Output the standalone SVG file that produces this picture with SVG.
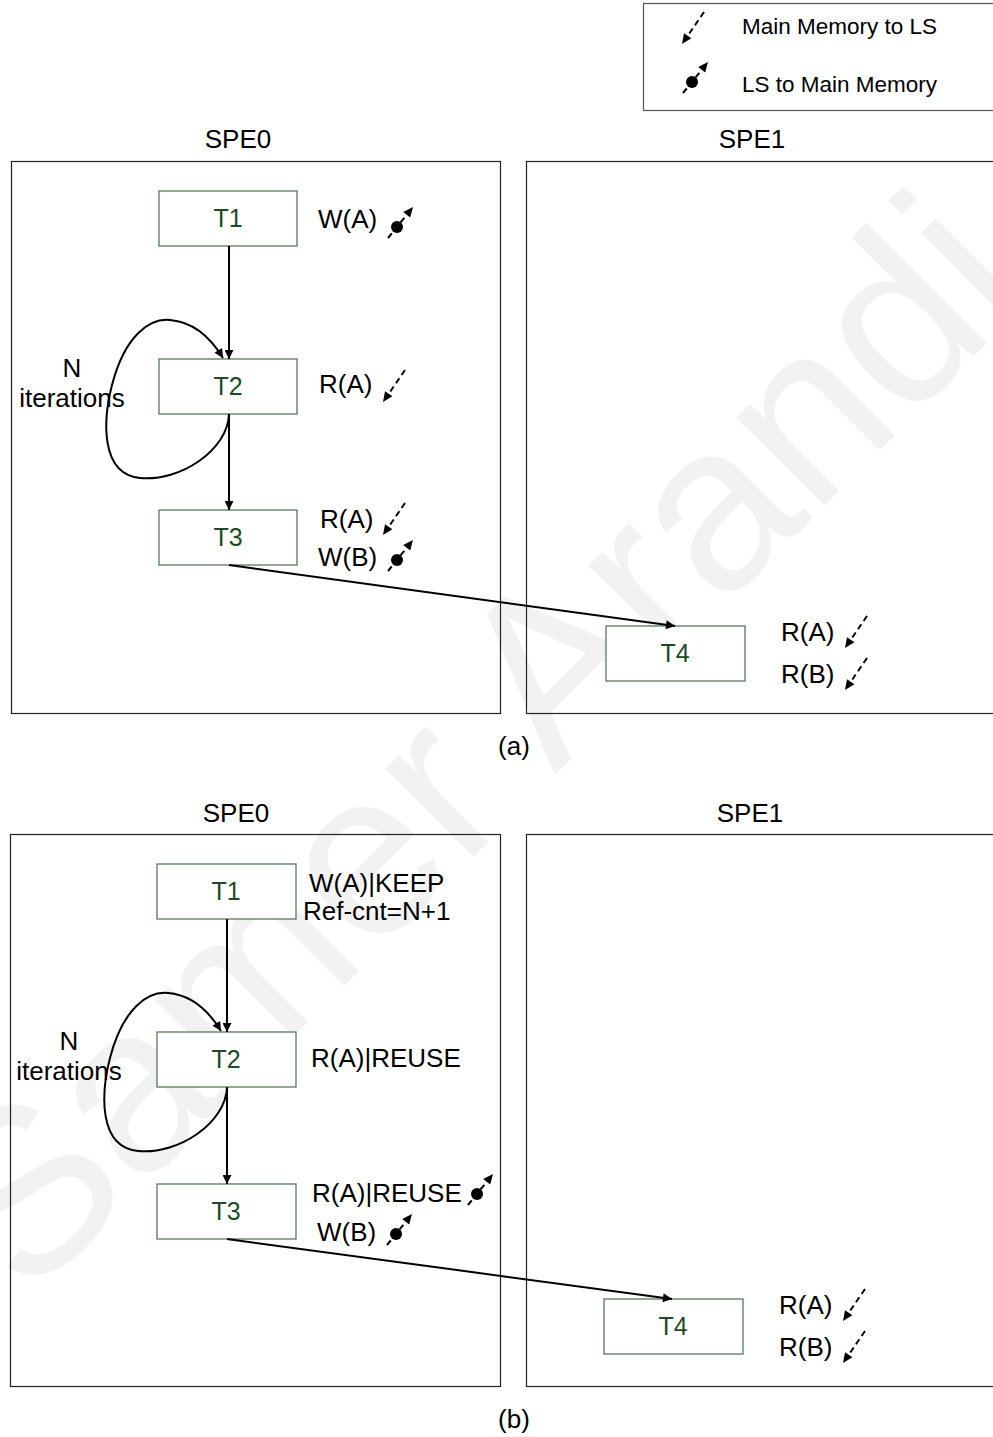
<svg xmlns="http://www.w3.org/2000/svg" xmlns:xlink="http://www.w3.org/1999/xlink" width="993" height="1437" viewBox="0 0 993 1437">
<style>
text{font-family:"Liberation Sans",Arial,sans-serif;}
.lbl{font-size:26px;fill:#000;}
.ttl{font-size:26px;fill:#000;}
.leg{font-size:22.5px;fill:#000;}
.nt{font-size:25px;fill:#1e4a28;text-anchor:middle;}
.node{fill:#fff;stroke:#557a5c;stroke-width:1.3;}
.panel{fill:none;stroke:#222;stroke-width:1.2;}
.edge{fill:none;stroke:#000;stroke-width:2;}
.dash{stroke:#000;stroke-width:2;stroke-dasharray:6,4;fill:none;}
.wm{font-size:235px;fill:#f2f2f2;}
</style>
<defs>
<marker id="ah" viewBox="0 0 10 10" refX="10" refY="5" markerWidth="10" markerHeight="9" markerUnits="userSpaceOnUse" orient="auto">
<path d="M0,0 L10,5 L0,10 z" fill="#000"/>
</marker>
<g id="rd">
<line class="dash" x1="22" y1="-32" x2="5.7" y2="-8.2"/>
<polygon points="0,0 9.4,-5.7 2,-10.8" fill="#000"/>
</g>
<g id="wr">
<line class="dash" x1="0" y1="0" x2="18.7" y2="-23.2"/>
<circle cx="9" cy="-11" r="6" fill="#000"/>
<polygon points="25,-31 22.2,-20.4 15.2,-26" fill="#000"/>
</g>
</defs>
<rect width="993" height="1437" fill="#fff"/>
<text class="wm" transform="translate(28,1302) rotate(-45)">Samer Arandi</text>

<g id="legend">
<rect x="643.5" y="3.5" width="352" height="107" fill="none" stroke="#555" stroke-width="1.2"/>
<use xlink:href="#rd" x="682" y="44"/>
<text class="leg" x="742" y="34">Main Memory to LS</text>
<use xlink:href="#wr" x="683" y="93"/>
<text class="leg" x="742" y="92">LS to Main Memory</text>
</g>

<!-- Panel (a) -->
<g id="a-spe0">
<text class="ttl" x="238" y="148" text-anchor="middle">SPE0</text>
<rect class="panel" x="11.5" y="161.5" width="489" height="552"/>
</g>
<g id="a-spe1">
<text class="ttl" x="752" y="148" text-anchor="middle">SPE1</text>
<rect class="panel" x="526.5" y="161.5" width="470" height="552"/>
</g>
<g id="a-T1">
<rect class="node" x="159" y="191" width="138" height="55"/>
<text class="nt" x="228" y="227">T1</text>
<text class="lbl" x="318" y="228">W(A)</text>
<use xlink:href="#wr" x="388" y="238"/>
</g>
<g id="a-T2">
<rect class="node" x="159" y="359" width="138" height="55"/>
<text class="nt" x="228" y="395">T2</text>
<text class="lbl" x="319" y="393">R(A)</text>
<use xlink:href="#rd" x="383" y="402"/>
</g>
<g id="a-T3">
<rect class="node" x="159" y="510" width="138" height="55"/>
<text class="nt" x="228" y="546">T3</text>
<text class="lbl" x="320" y="528">R(A)</text>
<use xlink:href="#rd" x="383" y="535"/>
<text class="lbl" x="318" y="566">W(B)</text>
<use xlink:href="#wr" x="388" y="571"/>
</g>
<g id="a-T4">
<rect class="node" x="606" y="626" width="139" height="55"/>
<text class="nt" x="675" y="662">T4</text>
<text class="lbl" x="781" y="641">R(A)</text>
<use xlink:href="#rd" x="845" y="648"/>
<text class="lbl" x="781" y="683">R(B)</text>
<use xlink:href="#rd" x="845" y="690"/>
</g>
<g id="a-loop-label">
<text class="lbl" x="72" y="377" text-anchor="middle">N</text>
<text class="lbl" x="72" y="407" text-anchor="middle">iterations</text>
</g>
<text class="ttl" x="514" y="755" text-anchor="middle">(a)</text>

<!-- Panel (b) -->
<g id="b-spe0">
<text class="ttl" x="236" y="822" text-anchor="middle">SPE0</text>
<rect class="panel" x="10.5" y="834.5" width="490" height="552"/>
</g>
<g id="b-spe1">
<text class="ttl" x="750" y="822" text-anchor="middle">SPE1</text>
<rect class="panel" x="526.5" y="834.5" width="470" height="552"/>
</g>
<g id="b-T1">
<rect class="node" x="157" y="864" width="139" height="55"/>
<text class="nt" x="226" y="900">T1</text>
<text class="lbl" x="309" y="892">W(A)|KEEP</text>
<text class="lbl" x="303" y="920">Ref-cnt=N+1</text>
</g>
<g id="b-T2">
<rect class="node" x="157" y="1032" width="139" height="55"/>
<text class="nt" x="226" y="1068">T2</text>
<text class="lbl" x="311" y="1067">R(A)|REUSE</text>
</g>
<g id="b-T3">
<rect class="node" x="157" y="1184" width="139" height="55"/>
<text class="nt" x="226" y="1220">T3</text>
<text class="lbl" x="312" y="1202">R(A)|REUSE</text>
<use xlink:href="#wr" x="468" y="1205"/>
<text class="lbl" x="317" y="1241">W(B)</text>
<use xlink:href="#wr" x="387" y="1245"/>
</g>
<g id="b-T4">
<rect class="node" x="604" y="1299" width="139" height="55"/>
<text class="nt" x="673" y="1335">T4</text>
<text class="lbl" x="779" y="1314">R(A)</text>
<use xlink:href="#rd" x="843" y="1321"/>
<text class="lbl" x="779" y="1356">R(B)</text>
<use xlink:href="#rd" x="843" y="1363"/>
</g>
<g id="b-loop-label">
<text class="lbl" x="69" y="1050" text-anchor="middle">N</text>
<text class="lbl" x="69" y="1080" text-anchor="middle">iterations</text>
</g>
<text class="ttl" x="514" y="1428" text-anchor="middle">(b)</text>

<g id="connectors">
<line class="edge" x1="229" y1="246" x2="229" y2="359" marker-end="url(#ah)"/>
<line class="edge" x1="229" y1="414" x2="229" y2="510" marker-end="url(#ah)"/>
<line class="edge" x1="229" y1="565" x2="675" y2="626" marker-end="url(#ah)"/>
<path class="edge" d="M229,414 C228,450 180,482 140,478 C100,474 103,420 112,385 C125,335 150,318 170,320 C195,322 212,340 223,358" marker-end="url(#ah)"/>
<line class="edge" x1="227" y1="919" x2="227" y2="1032" marker-end="url(#ah)"/>
<line class="edge" x1="227" y1="1087" x2="227" y2="1184" marker-end="url(#ah)"/>
<line class="edge" x1="227" y1="1239" x2="672" y2="1299" marker-end="url(#ah)"/>
<path class="edge" d="M227,1087 C226,1123 178,1155 138,1151 C98,1147 101,1093 110,1058 C123,1008 148,991 168,993 C193,995 210,1013 221,1031" marker-end="url(#ah)"/>
</g>
</svg>
